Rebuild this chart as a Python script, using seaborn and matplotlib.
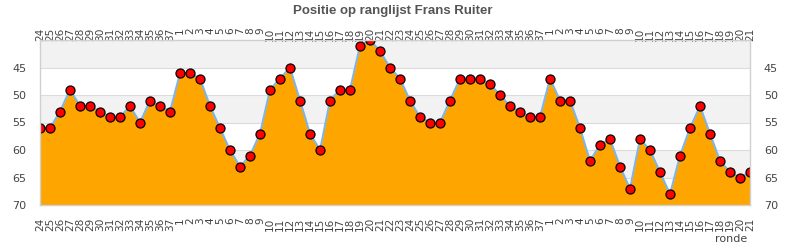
import matplotlib
matplotlib.use("Agg")
import matplotlib.pyplot as plt
import seaborn as sns
import pandas as pd
import numpy as np

rounds = [str(r) for r in range(24, 38)] + [str(r) for r in range(1, 38)] + [str(r) for r in range(1, 22)]
positions = [56, 56, 53, 49, 52, 52, 53, 54, 54, 52, 55, 51, 52, 53,
             46, 46, 47, 52, 56, 60, 63, 61, 57, 49, 47, 45, 51, 57, 60, 51, 49, 49,
             41, 40, 42, 45, 47, 51, 54, 55, 55, 51, 47, 47, 47, 48, 50, 52, 53, 54, 54,
             47, 51, 51, 56, 62, 59, 58, 63, 67, 58, 60, 64, 68, 61, 56, 52, 57, 62, 64, 65, 64]
yticks = [45, 50, 55, 60, 65, 70]
title = "Positie op ranglijst Frans Ruiter"
xlabel = "ronde"

df = pd.DataFrame({"idx": np.arange(len(rounds)), "pos": positions})

sns.set_theme(style="white")
plt.rcParams['font.family'] = ['DejaVu Sans']

fig = plt.figure(figsize=(7.9, 2.5), dpi=100)
ax = fig.add_axes([40/790, 1 - 205/250, 710/790, 165/250])

# background bands
ymin, ymax = 40, 70
for lo in range(ymin, ymax, 5):
    col = "#f2f2f2" if ((lo - ymin) // 5) % 2 == 0 else "#ffffff"
    ax.axhspan(lo, lo + 5, color=col, zorder=0, lw=0)
for y in yticks:
    ax.axhline(y, color="#dcdcdc", lw=0.8, zorder=0.5)

ax.fill_between(df["idx"], df["pos"], ymax, color="#ffa500", zorder=1, lw=0)
sns.lineplot(data=df, x="idx", y="pos", ax=ax, color="#7cb5ec", lw=1.4, zorder=2,
             marker="o", markersize=6.5, markerfacecolor="red", markeredgecolor="black",
             markeredgewidth=0.9)

ax.set_xlim(0, len(rounds) - 1)
ax.set_ylim(ymax, ymin)
ax.set_yticks(yticks)
ax.set_xticks(df["idx"])
ax.set_xticklabels(rounds, rotation=90)
ax.tick_params(axis="x", length=0, pad=9, labelsize=7.6, colors="#444444",
               top=True, labeltop=True, bottom=True, labelbottom=True)
ax.tick_params(axis="y", length=0, pad=10, labelsize=8, colors="#444444",
               left=True, labelleft=True, right=True, labelright=True)
for lbl in ax.get_xticklabels():
    lbl.set_va("top")
ax.set_xlabel("")
ax.set_ylabel("")
for s in ax.spines.values():
    s.set_color("#d0d0d0")
    s.set_linewidth(1)
    s.set_visible(True)

fig.text(393/790, 1 - 11/250, title, ha="center", va="center",
         fontsize=9.5, fontweight="bold", color="#555555",
         family=["Liberation Sans", "DejaVu Sans"])
fig.text(747/790, 1 - 239/250, xlabel, ha="right", va="center",
         fontsize=8, color="#444444")

fig.savefig("out.png", dpi=100)
